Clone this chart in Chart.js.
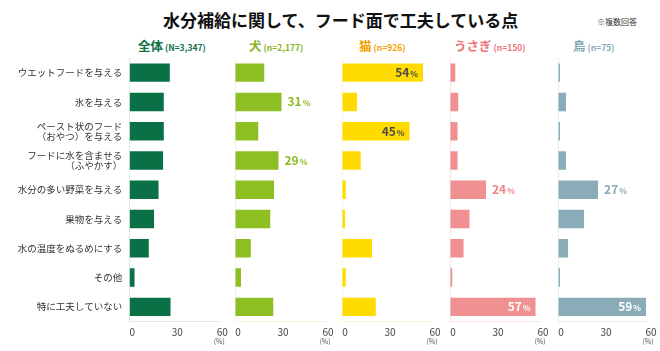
<!DOCTYPE html>
<html lang="ja">
<head>
<meta charset="utf-8">
<script src="https://cdn.jsdelivr.net/npm/chart.js@4.4.1/dist/chart.umd.min.js"></script>
<style>
  body { margin: 0; background: #fff; font-family: "Noto Sans CJK JP", sans-serif; }
  #wrap { position: relative; width: 660px; height: 351px; overflow: hidden; }
  .title { position: absolute; left: 163px; top: 8px; font-size: 17px; font-weight: bold; line-height: 24px; color: #111; white-space: nowrap; }
  .note { position: absolute; left: 597px; top: 16px; font-size: 8px; line-height: 12px; color: #333; white-space: nowrap; }
  .hd { position: absolute; top: 37px; font-size: 12.5px; font-weight: bold; line-height: 18px; white-space: nowrap; }
  .hd span { font-size: 8.5px; margin-left: 2px; }
  .panel { position: absolute; top: 0; height: 351px; }
</style>
</head>
<body>
<div id="wrap">
  <div class="title">水分補給に関して、フード面で工夫している点</div>
  <div class="note">※複数回答</div>
  <div class="hd" style="left:138px;color:#0b7145">全体<span>(N=3,347)</span></div>
  <div class="hd" style="left:249px;color:#86b322">犬<span>(n=2,177)</span></div>
  <div class="hd" style="left:359px;color:#f59f00">猫<span>(n=926)</span></div>
  <div class="hd" style="left:454px;color:#ee7479">うさぎ<span>(n=150)</span></div>
  <div class="hd" style="left:573px;color:#86a7b6">鳥<span>(n=75)</span></div>
  <div class="panel" id="p0"><canvas id="c0"></canvas></div>
  <div class="panel" id="p1"><canvas id="c1"></canvas></div>
  <div class="panel" id="p2"><canvas id="c2"></canvas></div>
  <div class="panel" id="p3"><canvas id="c3"></canvas></div>
  <div class="panel" id="p4"><canvas id="c4"></canvas></div>
</div>
<script>
const categories = [
  "ウエットフードを与える",
  "氷を与える",
  ["ペースト状のフード", "（おやつ）を与える"],
  ["フードに水を含ませる", "（ふやかす）"],
  "水分の多い野菜を与える",
  "果物を与える",
  "水の温度をぬるめにする",
  "その他",
  "特に工夫していない"
];
const overall = [27, 23, 23, 22.5, 19.5, 16.5, 13, 3.5, 27.5];
const dogs    = [19.5, 31, 15.5, 29, 26, 23.5, 10.5, 4, 25.5];
const cats    = [54, 10, 45, 12.5, 2.5, 2, 20, 2.5, 22.5];
const rabbits = [3.5, 5.5, 5, 5, 24, 13, 9, 1.5, 57];
const birds   = [1.3, 5.3, 1.3, 5.3, 26.7, 17.3, 6.7, 1.3, 58.7];
const xTicks  = [0, 30, 60];

const FONT = "'Noto Sans CJK JP', sans-serif";
Chart.defaults.font.family = FONT;

// panel look: bar colour, faint axis colour, label colours
const panels = [
  { data: overall, color: "#0a7046", axis: "#dcebe2", labels: false },
  { data: dogs,    color: "#8dbf22", axis: "#eef5dc", labels: true, outside: "#8dbb25", inside: "#ffffff" },
  { data: cats,    color: "#ffdb00", axis: "#fdf6d2", labels: true, outside: "#f5a000", inside: "#4a4a4a" },
  { data: rabbits, color: "#f09090", axis: "#fbe4e4", labels: true, outside: "#ef8585", inside: "#ffffff" },
  { data: birds,   color: "#8aacb8", axis: "#e4edf0", labels: true, outside: "#8aaab8", inside: "#ffffff" }
];
const axisX = [129.3, 235, 342.3, 450.3, 558.3];
const plotW = 90;

const valueLabels = {
  id: "valueLabels",
  afterDatasetsDraw(chart, args, opts) {
    if (!opts.show) return;
    const ctx = chart.ctx;
    const vals = chart.data.datasets[0].data;
    const meta = chart.getDatasetMeta(0);
    const top2 = vals.map((v, i) => i).sort((a, b) => vals[b] - vals[a]).slice(0, 2);
    top2.forEach(i => {
      const bar = meta.data[i];
      const num = String(Math.round(vals[i]));
      ctx.save();
      ctx.font = "bold 12px " + FONT;
      const w1 = ctx.measureText(num).width;
      ctx.font = "bold 8px " + FONT;
      const w2 = ctx.measureText("%").width;
      const inside = vals[i] > 40;
      const x = inside ? bar.x - 5 - (w1 + w2 + 1) : bar.x + 6;
      const yb = bar.y + 4.5;
      ctx.fillStyle = inside ? opts.inside : opts.outside;
      ctx.textBaseline = "alphabetic";
      ctx.textAlign = "left";
      ctx.font = "bold 12px " + FONT;
      ctx.fillText(num, x, yb);
      ctx.font = "bold 8px " + FONT;
      ctx.fillText("%", x + w1 + 1, yb);
      ctx.restore();
    });
  }
};

const percentUnit = {
  id: "percentUnit",
  afterDraw(chart) {
    const ctx = chart.ctx;
    const xs = chart.scales.x;
    ctx.save();
    ctx.font = "7px " + FONT;
    ctx.fillStyle = "#555";
    ctx.textAlign = "center";
    ctx.textBaseline = "middle";
    ctx.fillText("(%)", xs.getPixelForValue(xTicks[xTicks.length - 1]), 341.5);
    ctx.restore();
  }
};

panels.forEach((p, k) => {
  const first = k === 0;
  const box = document.getElementById("p" + k);
  const left = first ? 0 : axisX[k] - 10;
  box.style.left = left + "px";
  box.style.width = (first ? axisX[0] + plotW + 15 : 10 + plotW + 15) + "px";

  new Chart(document.getElementById("c" + k), {
    type: "bar",
    data: {
      labels: categories,
      datasets: [{
        data: p.data,
        backgroundColor: p.color,
        barPercentage: 0.63,
        categoryPercentage: 1
      }]
    },
    plugins: [valueLabels, percentUnit],
    options: {
      indexAxis: "y",
      responsive: true,
      maintainAspectRatio: false,
      animation: false,
      layout: { padding: { top: 58, bottom: 0, left: first ? 0 : 10, right: 15 } },
      plugins: {
        legend: { display: false },
        tooltip: { enabled: false },
        valueLabels: { show: p.labels, inside: p.inside, outside: p.outside }
      },
      scales: {
        x: {
          min: 0,
          max: 60,
          afterBuildTicks: s => { s.ticks = xTicks.map(v => ({ value: v })); },
          afterFit: s => { s.height = 29.5; },
          ticks: { color: "#444", font: { size: 10 }, padding: 5, labelOffset: 3, maxRotation: 0 },
          grid: {
            drawTicks: false,
            color: c => (c.tick && c.tick.value === 0 ? p.axis : "transparent")
          },
          border: { display: true, color: p.axis }
        },
        y: {
          display: first,
          afterFit: s => { if (first) s.width = axisX[0]; },
          ticks: { color: "#333", font: { size: 9.5, lineHeight: 1.1 }, padding: 7 },
          grid: { display: false, drawTicks: false },
          border: { display: false }
        }
      }
    }
  });
});
</script>
</body>
</html>
